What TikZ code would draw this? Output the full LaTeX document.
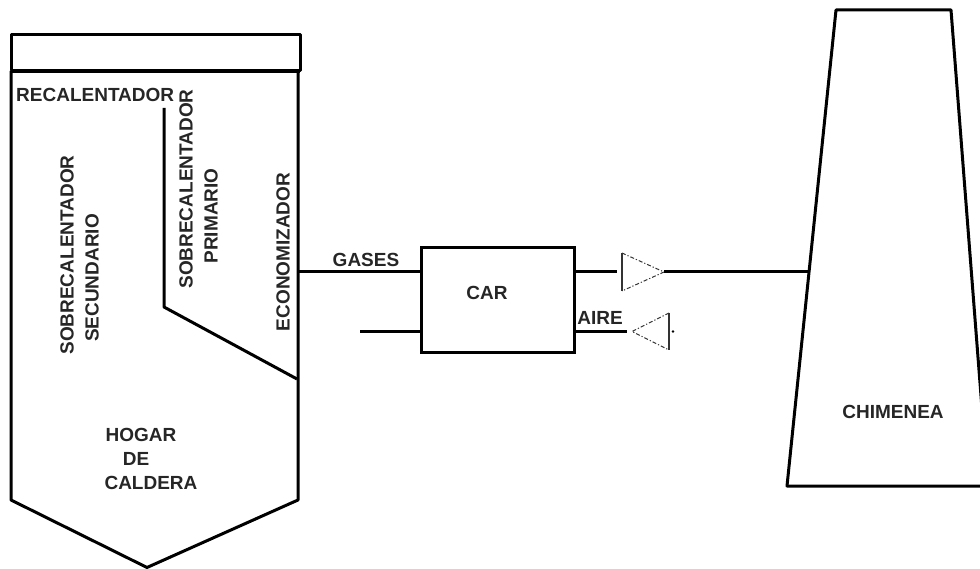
\documentclass[tikz,border=0pt]{standalone}
\usepackage{fontspec}
\setmainfont{Liberation Sans}
\begin{document}
\begin{tikzpicture}[x=1pt,y=-1pt,
  lbl/.style={font=\fontsize{19}{21}\selectfont\bfseries,inner sep=0pt,align=center,text=black!85},
  wall/.style={draw=black,line width=3pt,line join=round},
  fanside/.style={draw=black!80,line width=1pt,dash pattern=on 4pt off 2pt on 1.2pt off 2pt},
  fanbase/.style={draw=black!80,line width=1.2pt}]
\useasboundingbox (0,0) rectangle (980,569);
% Boiler
\draw[wall] (11,35) rectangle (300,71);
\draw[draw=black,line width=4.5pt] (11,71) -- (300,71);
\coordinate (gasin) at (298,272);
\draw[wall] (11,71) -- (11,500) -- (147,567.5) -- (298,500) -- (298,71);
\draw[wall] (164,108) -- (164,307) -- (297,379);
% CAR
\node[draw=black,line width=3pt,minimum width=153pt,minimum height=104pt,inner sep=0pt] (car) at (497.5,300) {};
\node[lbl] at (487,293) {CAR};
\draw[wall] (gasin) -- (car.west |- gasin);
\coordinate (airin) at (360,331.5);
\draw[wall] (airin) -- (car.west |- airin);
\node[lbl] at (366,260) {GASES};
\node[lbl] at (600,318) {AIRE};
% fans
\coordinate (f1a) at (622,253);
\coordinate (f1b) at (622,291);
\coordinate (f1t) at (664,272);
\coordinate (f2a) at (669,313);
\coordinate (f2b) at (669,350);
\coordinate (f2t) at (632,331.5);
\draw[fanbase] (f1a) -- (f1b);
\draw[fanside] (f1a) -- (f1t) -- (f1b);
\draw[fanbase] (f2a) -- (f2b);
\draw[fanside] (f2a) -- (f2t) -- (f2b);
\fill (673,331.5) circle (1.3pt);
\coordinate (f1l) at (617,272);
\coordinate (f2l) at (627,331.5);
\coordinate (stack) at (810,272);
\draw[wall] (car.east |- f1l) -- (f1l);
\draw[wall] (f1t) -- (stack);
\draw[wall] (car.east |- f2l) -- (f2l);
% Chimney
\draw[wall] (836,10) -- (951,10) -- (988,486) -- (787,486) -- cycle;
% Labels
\node[lbl,anchor=west] at (16,95) {RECALENTADOR};
\node[lbl,rotate=90] at (67,255) {SOBRECALENTADOR};
\node[lbl,rotate=90] at (92,278) {SECUNDARIO};
\node[lbl,rotate=90] at (186,189) {SOBRECALENTADOR};
\node[lbl,rotate=90] at (211,216) {PRIMARIO};
\node[lbl,rotate=90] at (283,252) {ECONOMIZADOR};
\node[lbl] at (141,435) {HOGAR};
\node[lbl] at (136,459) {DE};
\node[lbl] at (151,483) {CALDERA};
\node[lbl] at (893,412) {CHIMENEA};
\end{tikzpicture}
\end{document}
